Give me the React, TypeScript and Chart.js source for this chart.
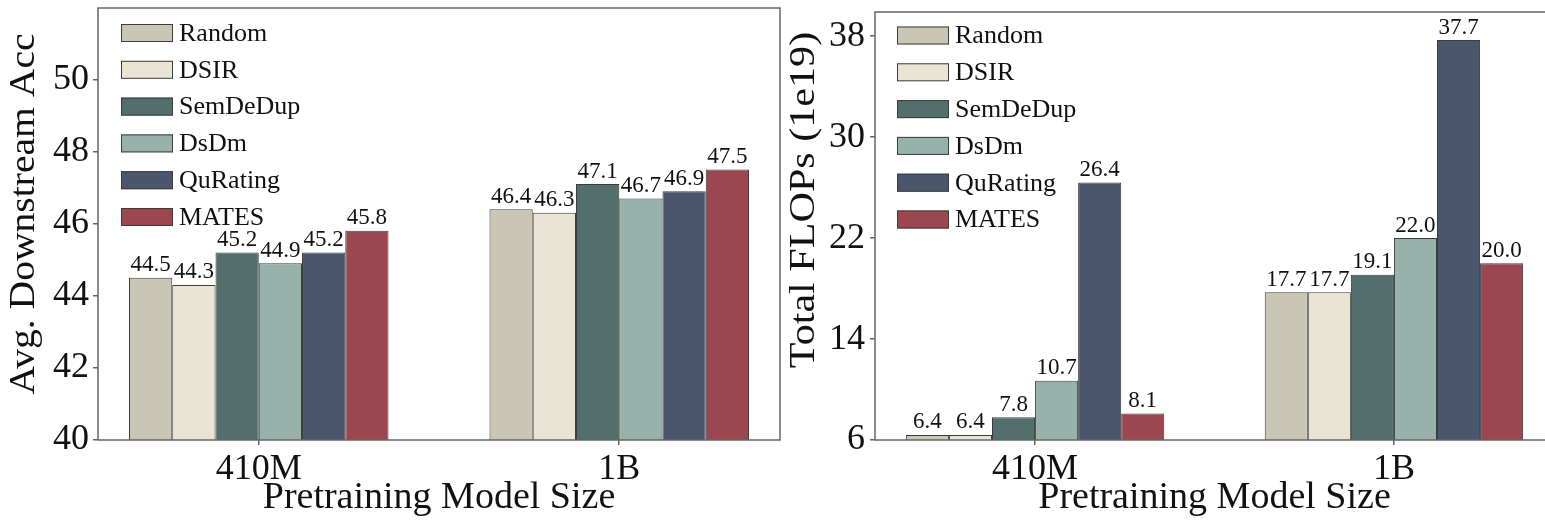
import React, { useEffect, useRef } from 'react';
import { Chart, registerables } from 'chart.js';

Chart.register(...registerables);

// ---------- data ----------
const categories = ['410M', '1B'];
const methods = ['Random', 'DSIR', 'SemDeDup', 'DsDm', 'QuRating', 'MATES'];
const methodColors = ['#c9c6b5', '#e9e4d4', '#526f6d', '#97b2aa', '#4a566e', '#9c4750'];

const accRandom = [44.5, 46.4];
const accDSIR = [44.3, 46.3];
const accSemDeDup = [45.2, 47.1];
const accDsDm = [44.9, 46.7];
const accQuRating = [45.2, 46.9];
const accMATES = [45.8, 47.5];

const flopsRandom = [6.4, 17.7];
const flopsDSIR = [6.4, 17.7];
const flopsSemDeDup = [7.8, 19.1];
const flopsDsDm = [10.7, 22.0];
const flopsQuRating = [26.4, 37.7];
const flopsMATES = [8.1, 20.0];

const accTicks = [40, 42, 44, 46, 48, 50];
const flopsTicks = [6, 14, 22, 30, 38];

const accSeries = [accRandom, accDSIR, accSemDeDup, accDsDm, accQuRating, accMATES];
const flopsSeries = [flopsRandom, flopsDSIR, flopsSemDeDup, flopsDsDm, flopsQuRating, flopsMATES];

// ---------- style ----------
const FONT = "'Liberation Serif', 'Times New Roman', serif";
const SPINE = '#666666';
const EDGE = '#3c3c3c';

type Geo = {
  width: number;
  height: number;
  padTop: number;
  padRight: number;
  yAxisWidth: number;
  xAxisHeight: number;
  yTickPad: number;
  yTitleX: number;
  yTitleY: number;
  yTitleStretch: number;
  legendDx: number;
  legendDy: number;
};

const framePlugin = {
  id: 'frame',
  afterDatasetsDraw(chart: any) {
    const { ctx, chartArea: a } = chart;
    ctx.save();
    ctx.strokeStyle = SPINE;
    ctx.lineWidth = 1.5;
    ctx.strokeRect(a.left, a.top, a.right - a.left, a.bottom - a.top);
    ctx.restore();
  },
};

const valueLabelPlugin = {
  id: 'valueLabels',
  afterDatasetsDraw(chart: any) {
    const { ctx } = chart;
    ctx.save();
    ctx.font = `23px ${FONT}`;
    ctx.fillStyle = '#111';
    ctx.textAlign = 'center';
    ctx.textBaseline = 'bottom';
    chart.data.datasets.forEach((ds: any, di: number) => {
      const meta = chart.getDatasetMeta(di);
      meta.data.forEach((el: any, i: number) => {
        const v = ds.data[i].y;
        ctx.fillText(v.toFixed(1), el.x, el.y - 1);
      });
    });
    ctx.restore();
  },
};

const makeLegendPlugin = (geo: Geo) => ({
  id: 'innerLegend',
  afterDatasetsDraw(chart: any) {
    const { ctx, chartArea: a } = chart;
    ctx.save();
    ctx.font = `26px ${FONT}`;
    ctx.textAlign = 'left';
    ctx.textBaseline = 'middle';
    const boxW = 52;
    const boxH = 18;
    const rowH = 36.8;
    chart.data.datasets.forEach((ds: any, di: number) => {
      const cy = a.top + geo.legendDy + di * rowH;
      const x = a.left + geo.legendDx;
      ctx.fillStyle = ds.backgroundColor;
      ctx.fillRect(x, cy - boxH / 2, boxW, boxH);
      ctx.strokeStyle = EDGE;
      ctx.lineWidth = 1;
      ctx.strokeRect(x + 0.5, cy - boxH / 2 + 0.5, boxW - 1, boxH - 1);
      ctx.fillStyle = '#111';
      ctx.fillText(ds.label, x + boxW + 6, cy + 1);
    });
    ctx.restore();
  },
});

const makeYTitlePlugin = (text: string, geo: Geo) => ({
  id: 'yTitle',
  afterDraw(chart: any) {
    const { ctx } = chart;
    ctx.save();
    ctx.translate(geo.yTitleX, geo.yTitleY);
    ctx.rotate(-Math.PI / 2);
    ctx.scale(geo.yTitleStretch, 1);
    ctx.font = `36px ${FONT}`;
    ctx.fillStyle = '#111';
    ctx.textAlign = 'center';
    ctx.textBaseline = 'middle';
    ctx.fillText(text, 0, 0);
    ctx.restore();
  },
});

function makeConfig(
  series: number[][],
  yMin: number,
  yMax: number,
  yTicks: number[],
  yTitle: string,
  geo: Geo
): any {
  return {
    type: 'bar',
    data: {
      datasets: series.map((vals, si) => ({
        label: methods[si],
        data: vals.map((v, ci) => ({ x: ci, y: v })),
        backgroundColor: methodColors[si],
        borderColor: EDGE,
        borderWidth: 1,
        borderSkipped: false,
      })),
    },
    options: {
      responsive: false,
      animation: false,
      devicePixelRatio: 1,
      layout: { padding: { top: geo.padTop, right: geo.padRight, left: 0, bottom: 0 } },
      datasets: {
        bar: { categoryPercentage: 0.72, barPercentage: 1.0 },
      },
      plugins: {
        legend: { display: false },
        tooltip: { enabled: false },
      },
      scales: {
        x: {
          type: 'linear',
          min: -0.446,
          max: 1.446,
          offset: false,
          afterBuildTicks: (s: any) => {
            s.ticks = categories.map((_, i) => ({ value: i }));
          },
          afterFit: (s: any) => {
            s.height = geo.xAxisHeight;
            s.paddingLeft = 0;
            s.paddingRight = 0;
            s.paddingTop = 0;
            s.paddingBottom = 0;
          },
          ticks: {
            autoSkip: false,
            maxRotation: 0,
            padding: 3,
            color: '#111',
            font: { family: FONT, size: 36 },
            callback: (_v: any, i: number) => categories[i],
          },
          grid: {
            display: true,
            offset: false,
            drawOnChartArea: false,
            drawTicks: true,
            tickLength: 5,
            color: SPINE,
            lineWidth: 1.5,
          },
          border: { display: false },
          title: {
            display: true,
            text: 'Pretraining Model Size',
            color: '#111',
            font: { family: FONT, size: 38, lineHeight: 1 },
            padding: { top: 0, bottom: 4 },
          },
        },
        y: {
          type: 'linear',
          min: yMin,
          max: yMax,
          afterBuildTicks: (s: any) => {
            s.ticks = yTicks.map((v) => ({ value: v }));
          },
          afterFit: (s: any) => {
            s.width = geo.yAxisWidth;
            s.paddingTop = 0;
            s.paddingBottom = 0;
            s.paddingLeft = 0;
            s.paddingRight = 0;
          },
          ticks: {
            padding: geo.yTickPad,
            color: '#111',
            font: { family: FONT, size: 36 },
            callback: (v: any) => String(v),
          },
          grid: {
            display: true,
            offset: false,
            drawOnChartArea: false,
            drawTicks: true,
            tickLength: 5,
            color: SPINE,
            lineWidth: 1.5,
          },
          border: { display: false },
          title: { display: false },
        },
      },
    },
    plugins: [framePlugin, valueLabelPlugin, makeLegendPlugin(geo), makeYTitlePlugin(yTitle, geo)],
  };
}

const leftGeo: Geo = {
  width: 790,
  height: 521,
  padTop: 8,
  padRight: 10,
  yAxisWidth: 98,
  xAxisHeight: 81,
  yTickPad: 4,
  yTitleX: 25,
  yTitleY: 214,
  yTitleStretch: 1.1,
  legendDx: 23,
  legendDy: 25,
};

const rightGeo: Geo = {
  width: 780,
  height: 521,
  padTop: 12,
  padRight: 11,
  yAxisWidth: 90,
  xAxisHeight: 81,
  yTickPad: 5,
  yTitleX: 20,
  yTitleY: 200,
  yTitleStretch: 1.17,
  legendDx: 22,
  legendDy: 23.5,
};

function BarPanel(props: {
  series: number[][];
  yMin: number;
  yMax: number;
  yTicks: number[];
  yTitle: string;
  geo: Geo;
  left: number;
}) {
  const ref = useRef<HTMLCanvasElement | null>(null);
  useEffect(() => {
    if (!ref.current) return;
    const chart = new Chart(
      ref.current,
      makeConfig(props.series, props.yMin, props.yMax, props.yTicks, props.yTitle, props.geo)
    );
    return () => chart.destroy();
  }, []);
  return (
    <canvas
      ref={ref}
      width={props.geo.width}
      height={props.geo.height}
      style={{
        position: 'absolute',
        left: props.left,
        top: 0,
        width: props.geo.width,
        height: props.geo.height,
      }}
    />
  );
}

export default function App() {
  return (
    <div
      style={{
        position: 'fixed',
        left: 0,
        top: 0,
        width: 1545,
        height: 521,
        overflow: 'hidden',
        background: '#ffffff',
      }}
    >
      <BarPanel
        series={accSeries}
        yMin={40}
        yMax={51.98}
        yTicks={accTicks}
        yTitle="Avg. Downstream Acc"
        geo={leftGeo}
        left={0}
      />
      <BarPanel
        series={flopsSeries}
        yMin={6}
        yMax={39.92}
        yTicks={flopsTicks}
        yTitle="Total FLOPs (1e19)"
        geo={rightGeo}
        left={785}
      />
    </div>
  );
}
